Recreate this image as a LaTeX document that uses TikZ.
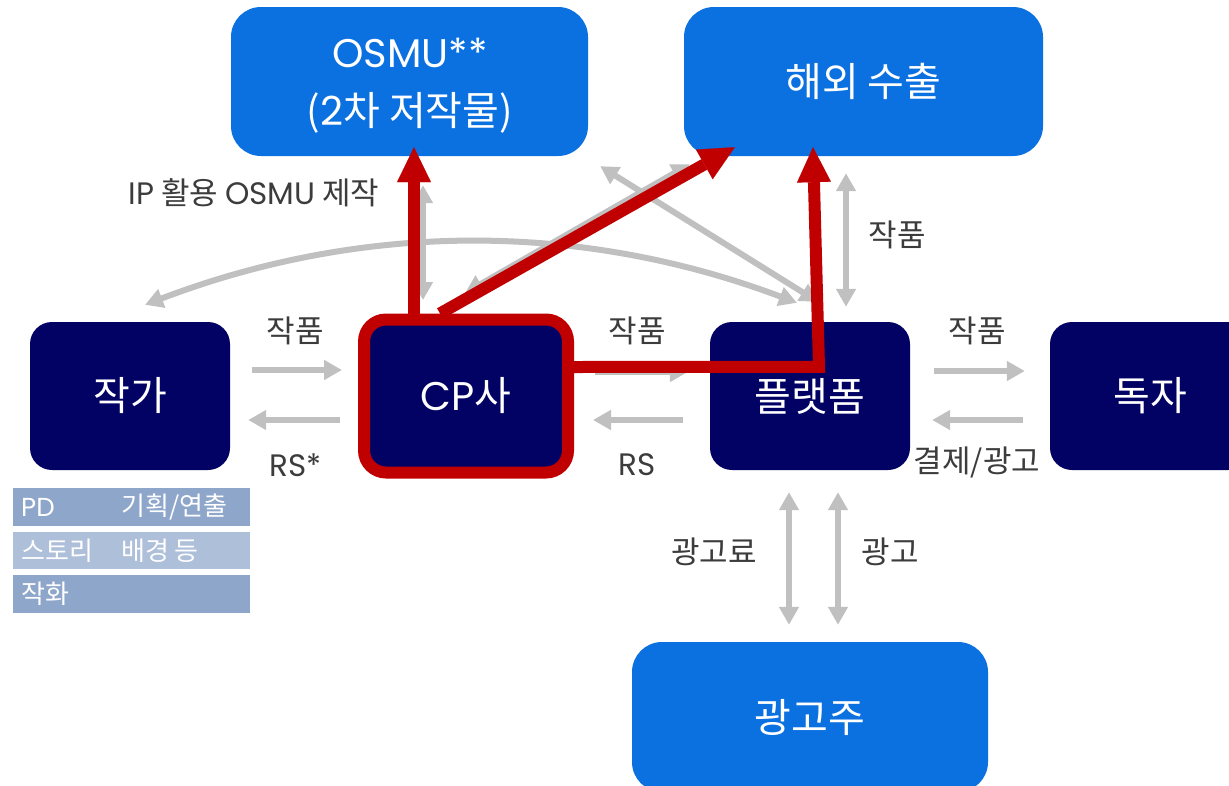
\documentclass[tikz,border=0pt]{standalone}
\usepackage{fontspec}
\setmainfont{Noto Sans CJK KR}
\newfontfamily\lat{Poppins}
\usetikzlibrary{arrows.meta,calc}
\definecolor{bboxblue}{RGB}{11,112,224}
\definecolor{navy}{RGB}{2,2,100}
\definecolor{redc}{RGB}{192,0,0}
\definecolor{grayarr}{RGB}{192,192,192}
\definecolor{labelc}{RGB}{60,60,60}
\definecolor{rowdark}{RGB}{142,166,202}
\definecolor{rowlight}{RGB}{174,191,218}
\begin{document}
\begin{tikzpicture}[x=1pt,y=-1pt,
  bluebox/.style={fill=bboxblue, rounded corners=30pt, text=white, font=\fontsize{40}{58}\selectfont, align=center, inner sep=0pt},
  navybox/.style={fill=navy, rounded corners=22pt, text=white, font=\fontsize{40}{46}\selectfont, minimum width=200pt, minimum height=148pt, inner sep=0pt},
  boxtext/.style={text=white, font=\fontsize{40}{58}\selectfont, align=center, inner sep=0pt},
  lbl/.style={text=labelc, font=\fontsize{31}{36}\selectfont, inner sep=0pt},
  gtip/.tip={Triangle[length=18pt,width=19pt]},
  garrow/.style={draw=grayarr, line width=6pt, -gtip},
  gdarrow/.style={draw=grayarr, line width=6pt, gtip-gtip},
  rarrow/.style={draw=redc, line width=12pt, -{Triangle[length=35pt,width=34pt,line width=0.1pt]}},
  rowd/.style={fill=rowdark, minimum width=237pt, inner sep=0pt},
  rowl/.style={fill=rowlight, minimum width=237pt, inner sep=0pt},
  rowtxt/.style={text=white, font=\fontsize{26}{30}\selectfont, anchor=west, inner sep=0pt},
]
\useasboundingbox (0,0) rectangle (1229,785);
\clip (0,0) rectangle (1229,785);
\fill[white] (0,0) rectangle (1229,785);

% boxes
\node[bluebox, minimum width=357pt, minimum height=149pt] (osmu) at (409.5,81.5) {};
\node[boxtext] (osmut) at (410,86) {{\lat OSMU**}\\({\lat 2}차 저작물)};
\node[bluebox, minimum width=359pt, minimum height=149pt] (haeoe) at (863.5,81.5) {해외 수출};
\node[bluebox, minimum width=356pt, minimum height=150pt] (adv) at (810,717) {광고주};
\node[navybox] (jakga) at (130,396) {작가};
\node[navybox] (platform) at (810,396) {플랫폼};
\node[navybox] (dokja) at (1150,396) {독자};
\node[navybox, draw=redc, line width=12pt, minimum width=204pt, minimum height=153pt] (cp) at (466,396) {{\lat CP}사};

% table
\node[rowd, minimum height=38pt] (r1) at (131.5,507) {};
\node[rowl, minimum height=37pt] (r2) at (131.5,550.5) {};
\node[rowd, minimum height=38pt] (r3) at (131.5,594) {};
\node[rowtxt] (t1a) at (21,507) {\lat PD};
\node[rowtxt] (t1b) at (121,507) {기획/연출};
\node[rowtxt] (t2a) at (21,550.5) {스토리};
\node[rowtxt] (t2b) at (121,550.5) {배경 등};
\node[rowtxt] (t3a) at (21,594) {작화};

% gray arrows
\draw[garrow, shorten <=22pt, shorten >=16pt] ([yshift=26pt]jakga.east) -- ([yshift=26pt]jakga.east -| cp.west);
\draw[garrow, shorten <=18pt, shorten >=18pt] ([yshift=-24pt]cp.west) -- ([yshift=-24pt]cp.west -| jakga.east);
\draw[garrow, shorten <=21pt, shorten >=22pt] ([yshift=24pt]cp.east) -- ([yshift=24pt]cp.east -| platform.west);
\draw[garrow, shorten <=27pt, shorten >=19pt] ([yshift=-24pt]platform.west) -- ([yshift=-24pt]platform.west -| cp.east);
\draw[garrow, shorten <=24pt, shorten >=25pt] ([yshift=25pt]platform.east) -- ([yshift=25pt]platform.east -| dokja.west);
\draw[garrow, shorten <=27pt, shorten >=22pt] ([yshift=-24pt]dokja.west) -- ([yshift=-24pt]dokja.west -| platform.east);
\draw[gdarrow, shorten <=22pt, shorten >=17pt] ([xshift=-21pt]platform.south) -- ([xshift=-21pt]adv.north);
\draw[gdarrow, shorten <=22pt, shorten >=17pt] ([xshift=28pt]platform.south) -- ([xshift=28pt]adv.north);
\draw[gdarrow, shorten <=17pt, shorten >=15pt] ([xshift=-17.5pt]haeoe.south) -- ([xshift=36pt]platform.north);
\draw[gdarrow, shorten <=29pt, shorten >=13.5pt] ([xshift=13.5pt]osmu.south) -- ([xshift=-43pt]cp.north);
\draw[gdarrow] ([shift={(12pt,-10pt)}]osmu.south east) -- ([shift={(8pt,20pt)}]platform.north);
\draw[gdarrow] ([shift={(-1pt,20.5pt)}]cp.north) -- ([shift={(6pt,-8pt)}]haeoe.south west);
\draw[gdarrow] ([shift={(15pt,17pt)}]jakga.north) .. controls (362,222) and (580,221) .. ([shift={(-13pt,19pt)}]platform.north);

% labels
\node[lbl] (lip) at (254,193) {{\lat IP} 활용 {\lat OSMU} 제작};
\node[lbl] (lw1) at (295,331) {작품};
\node[lbl] (lrs1) at (296,465) {\lat RS*};
\node[lbl] (lw2) at (637,331) {작품};
\node[lbl] (lrs2) at (637,465) {\lat RS};
\node[lbl] (lw3) at (977,331) {작품};
\node[lbl] (lpay) at (977,462) {결제/광고};
\node[lbl] (lw4) at (897,235) {작품};
\node[lbl] (lfee) at (714,552) {광고료};
\node[lbl] (lad) at (890,552) {광고};

% red arrows
\draw[rarrow, shorten >=-9pt] ([xshift=-52pt]cp.north) -- ([xshift=4.5pt]osmu.south);
\draw[rarrow] ([xshift=-26pt]cp.north) -- ([shift={(51pt,9pt)}]haeoe.south west);
\draw[rarrow] ([yshift=29pt]cp.east) -- ([shift={(9pt,-45pt)}]platform.north) -- ([shift={(-50.5pt,9pt)}]haeoe.south);
\end{tikzpicture}
\end{document}
